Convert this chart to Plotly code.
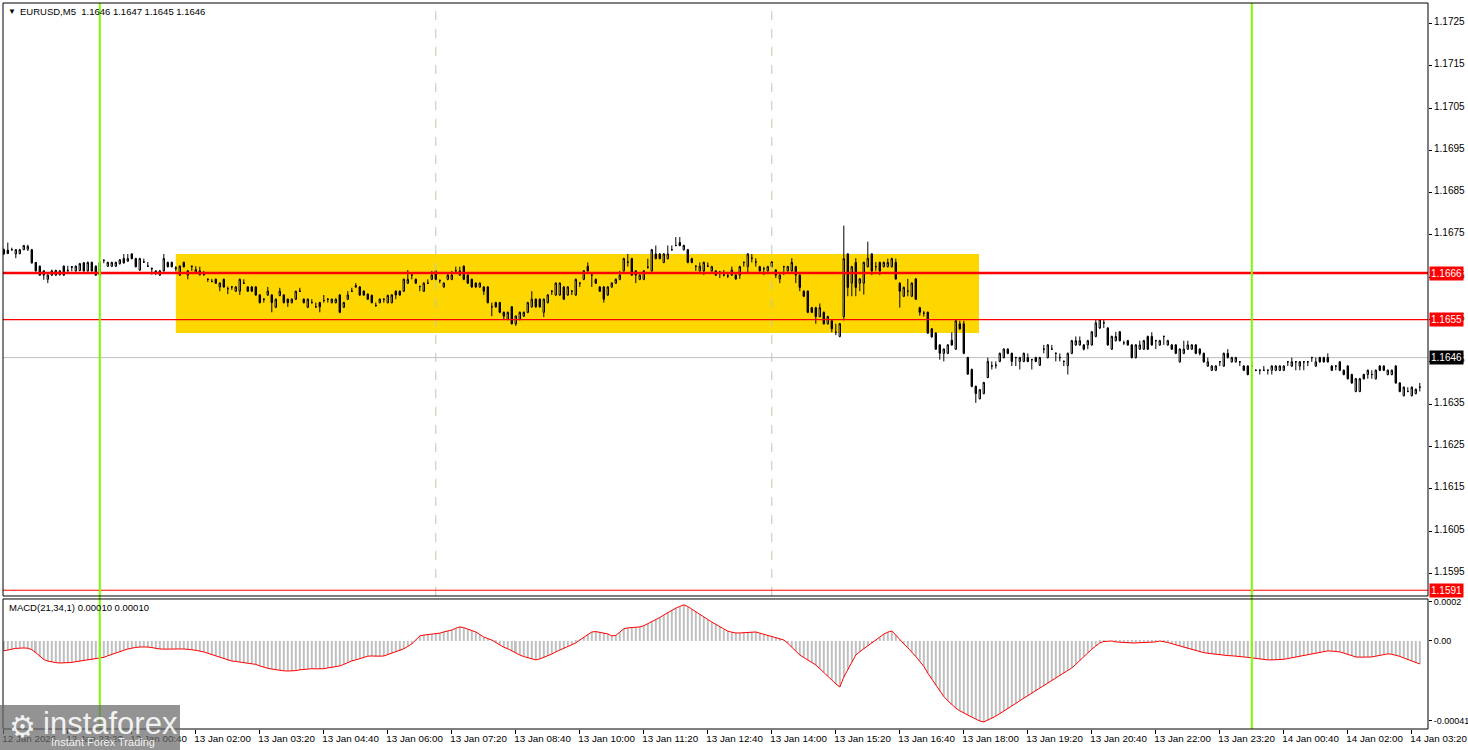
import pandas as pd
import plotly.graph_objects as go

# ---------------- data ----------------
symbol_title = "EURUSD,M5  1.1646 1.1647 1.1645 1.1646"
macd_title = "MACD(21,34,1) 0.00010 0.00010"
start_time = "2026-01-12 22:00"
base_price = 1.16          # prices below are given in pips above this base
pip_size = 0.0001

open_pips = [
    71.5,71.4,71.5,70.5,70.6,71.5,71.6,71.5,68.5,67.6,
    66.5,64.5,65.5,65.5,65.6,67.6,66.5,67.5,66.5,66.6,
    68.4,66.5,68.5,67.6,65.5,69.0,67.6,67.6,67.6,68.2,
    69.4,68.8,70.5,69.4,66.7,68.6,67.6,67.1,66.5,65.5,
    66.5,68.5,68.5,67.0,65.5,68.5,65.5,67.5,66.0,65.6,
    65.6,64.5,64.0,64.5,62.7,64.5,62.3,62.7,61.7,61.7,
    63.6,62.7,62.7,62.7,60.8,59.8,60.8,60.8,57.9,60.7,
    60.8,59.8,59.0,59.8,61.7,59.8,57.9,59.0,58.0,59.0,
    59.5,59.8,59.0,59.0,60.8,57.9,59.8,61.7,62.7,62.7,
    61.7,61.0,60.7,58.3,59.0,59.8,59.0,59.0,61.7,61.7,
    61.7,63.6,65.5,64.5,62.8,61.7,63.6,64.5,66.5,64.2,
    62.7,64.5,64.5,66.5,65.5,67.6,65.5,64.5,63.6,62.7,
    62.7,62.7,58.0,59.0,59.0,56.7,55.0,58.0,54.0,55.0,
    55.8,56.7,58.0,59.8,59.8,56.7,59.0,61.7,60.8,60.8,
    62.7,60.8,61.7,60.8,63.6,64.5,67.6,65.5,64.5,62.7,
    62.7,60.8,62.7,63.6,64.5,66.5,68.5,69.4,66.5,64.5,
    64.5,67.4,66.5,70.5,70.5,68.5,69.4,71.5,72.5,73.2,
    71.5,71.5,69.4,67.6,66.5,66.5,67.6,66.5,66.5,66.2,
    65.5,65.3,65.5,65.5,65.5,68.5,67.5,69.5,68.6,67.5,
    67.0,66.5,68.6,66.7,64.6,67.5,66.5,66.5,67.5,65.5,
    61.7,61.7,57.8,57.8,55.7,56.7,54.0,54.7,52.0,51.0,
    55.7,70.5,63.6,68.5,63.6,63.6,67.5,70.5,67.5,68.5,
    67.5,67.5,67.5,68.5,63.6,60.5,61.7,60.5,64.6,57.8,
    56.5,56.7,52.8,51.8,49.0,47.0,47.0,50.1,48.0,54.0,
    54.0,46.0,43.2,39.2,36.3,37.5,41.3,44.0,44.2,45.1,
    46.0,48.0,47.0,46.0,45.1,45.1,46.0,45.5,46.0,44.2,
    48.0,46.0,48.0,47.0,46.0,45.1,44.1,47.0,49.0,49.0,
    49.0,49.0,49.0,51.0,53.0,54.2,53.0,48.0,50.0,52.1,
    49.5,50.0,49.0,46.0,48.0,48.0,51.0,51.0,50.0,49.0,
    51.0,49.0,49.0,49.0,45.0,47.0,48.0,48.0,49.0,48.0,
    47.0,44.0,43.0,43.0,45.0,44.0,47.0,45.0,45.0,45.0,
    44.0,44.0,44.0,43.0,43.0,43.0,43.0,43.0,43.0,43.0,
    43.0,45.0,44.0,45.0,44.0,45.0,45.0,46.0,44.0,46.0,
    46.0,46.0,44.0,44.0,45.0,43.0,44.0,42.0,38.0,38.0,
    42.0,42.0,42.0,41.0,44.0,44.0,42.0,42.0,44.0,40.0,
    37.0,38.0,37.0,37.5,39.0,
]

close_pips = [
    70.5,70.6,71.5,71.5,71.5,72.5,72.3,68.4,66.5,65.5,
    65.5,65.5,66.5,66.6,66.5,65.5,66.6,67.4,67.6,68.2,
    66.5,68.5,66.5,65.5,68.5,69.0,68.5,68.5,68.5,69.1,
    68.4,69.4,69.4,67.5,69.4,68.6,67.6,67.0,66.2,66.5,
    69.4,67.5,67.5,67.2,67.6,67.5,66.5,67.6,66.8,66.5,
    65.6,64.5,64.0,63.6,63.6,62.7,62.3,62.7,62.7,64.5,
    63.6,61.7,61.7,60.8,59.0,59.8,61.7,59.0,59.8,61.7,
    59.0,59.0,59.8,61.7,61.7,59.0,59.8,59.0,58.0,58.0,
    59.5,59.8,59.8,59.8,56.7,59.0,60.8,61.7,63.0,60.8,
    60.8,59.8,59.0,58.3,59.8,59.8,60.7,60.8,60.8,60.8,
    64.5,64.5,65.5,63.6,62.8,63.6,63.6,65.5,64.5,64.2,
    63.6,65.5,65.5,66.5,66.5,64.5,63.6,62.7,62.7,63.6,
    61.7,59.0,58.0,58.0,56.7,55.8,56.7,54.0,55.8,56.7,
    56.7,59.0,59.8,58.0,58.0,59.8,60.8,61.7,63.6,63.6,
    59.8,62.7,61.7,64.5,63.6,66.5,66.5,65.5,63.6,61.7,
    59.8,62.7,63.6,64.5,65.5,69.4,68.6,65.5,65.5,65.5,
    66.5,67.4,71.5,69.4,69.4,70.5,70.5,71.5,72.5,72.5,
    72.5,68.5,68.5,67.6,67.6,68.5,67.6,67.5,65.5,66.2,
    65.5,65.3,66.7,64.6,67.5,68.5,70.5,69.5,68.6,66.5,
    67.0,67.5,67.5,65.5,65.5,67.5,67.5,68.5,65.5,62.6,
    60.5,56.7,56.7,55.7,57.8,54.0,55.7,52.8,52.0,54.0,
    69.4,62.6,67.5,62.6,64.6,68.5,69.5,66.5,67.5,66.5,
    68.5,68.5,69.4,64.6,61.7,62.6,61.7,63.6,59.8,56.7,
    56.5,51.8,50.9,48.0,47.0,48.0,49.0,49.0,54.7,52.8,
    47.0,42.1,39.2,37.5,38.4,40.1,45.1,44.0,44.2,47.0,
    48.0,47.0,45.1,46.0,46.0,47.0,45.1,45.5,45.1,46.0,
    48.0,49.0,48.0,47.0,46.0,45.1,47.0,50.0,50.0,50.0,
    48.0,50.0,52.1,54.2,55.0,54.2,49.0,51.0,51.0,50.0,
    49.5,49.0,46.0,49.0,49.0,50.0,48.0,49.0,50.0,50.0,
    51.0,50.0,48.0,47.0,48.0,48.0,49.0,49.0,47.0,47.0,
    45.0,45.0,44.0,44.0,45.0,47.0,46.0,46.0,46.0,45.0,
    43.0,42.0,44.0,43.0,43.0,43.0,43.0,44.0,44.0,44.0,
    44.0,45.0,45.0,45.0,45.0,45.0,45.0,46.0,45.0,45.0,
    45.0,45.0,43.0,44.0,43.0,42.0,41.0,40.0,41.0,41.0,
    41.0,43.0,42.0,43.0,43.0,43.0,43.0,43.0,40.0,38.0,
    39.0,38.0,39.0,38.5,39.0,
]

high_pips = [
    71.8,73.2,72.0,71.6,71.7,72.6,72.7,71.7,68.6,67.8,
    66.7,65.7,66.8,66.8,66.7,67.8,67.7,67.6,67.8,68.4,
    68.6,68.7,68.7,67.8,68.7,69.2,68.7,68.7,68.7,69.3,
    70.5,70.5,70.7,69.6,69.6,69.4,68.6,67.3,66.6,66.7,
    70.5,68.7,68.7,67.6,67.8,68.7,66.7,67.7,67.6,67.5,
    66.5,64.7,64.6,64.7,63.8,64.7,62.8,62.9,62.9,64.7,
    64.5,62.9,62.9,62.9,61.0,60.0,62.7,61.0,60.0,62.5,
    61.0,60.0,60.0,61.8,62.5,60.0,60.0,59.8,59.0,59.2,
    60.8,60.0,60.0,60.0,61.0,59.2,61.7,62.5,63.6,62.9,
    61.9,61.2,60.9,59.0,60.0,60.0,60.9,61.0,61.9,61.9,
    64.7,66.7,65.7,64.7,63.0,63.8,64.5,66.5,66.7,64.5,
    63.8,65.7,66.5,67.5,67.5,67.8,65.7,64.7,63.8,63.8,
    62.9,62.9,59.0,59.2,59.2,56.9,56.9,58.2,56.0,56.9,
    56.9,59.2,61.7,60.0,60.0,60.0,61.0,61.9,63.8,63.8,
    62.9,62.9,61.9,64.7,63.8,66.7,68.5,65.7,64.7,62.9,
    62.9,62.9,63.8,64.7,66.5,69.6,70.5,69.6,66.7,65.7,
    66.7,69.4,71.7,72.5,70.7,70.7,72.5,72.5,74.5,74.5,
    72.7,71.7,69.6,67.8,68.5,68.7,68.5,67.7,66.7,66.5,
    66.7,66.0,67.5,65.7,67.7,68.7,70.7,70.5,69.5,67.7,
    67.5,67.7,68.8,66.9,65.7,67.7,67.7,69.5,67.7,65.7,
    61.9,61.9,58.0,58.0,58.8,56.9,55.9,54.9,54.0,54.2,
    77.2,70.7,67.7,69.5,64.8,68.7,73.4,70.7,68.6,68.7,
    68.7,69.4,69.6,69.4,63.8,62.8,64.6,63.8,64.8,58.0,
    57.0,56.9,53.0,52.0,49.2,48.2,49.2,52.0,54.9,54.7,
    54.7,46.2,43.4,39.4,38.6,40.3,46.0,45.1,45.1,47.2,
    48.2,48.2,47.2,46.2,46.2,47.2,47.0,45.7,46.2,46.2,
    49.0,49.2,49.0,47.2,47.0,45.3,47.2,50.2,51.0,51.0,
    49.2,50.2,52.3,55.0,55.0,55.0,53.2,51.2,52.1,52.3,
    50.0,50.2,49.2,49.2,50.0,50.2,51.2,52.0,50.2,50.2,
    51.2,50.2,49.2,49.2,48.2,50.0,50.0,49.2,49.2,48.2,
    47.2,46.0,44.2,44.2,45.2,47.2,48.0,46.2,46.2,45.2,
    44.2,44.2,45.0,43.2,43.2,44.0,43.2,44.2,44.2,44.2,
    44.2,45.2,46.0,45.2,45.2,45.2,45.2,46.2,46.0,46.2,
    46.2,47.0,44.2,44.2,45.2,43.2,44.2,42.2,41.2,41.2,
    42.2,43.2,43.0,43.2,44.2,44.2,43.2,43.2,44.2,40.2,
    39.2,39.0,39.2,38.7,40.0,
]

low_pips = [
    70.3,70.5,71.3,69.5,70.4,71.4,71.2,68.2,66.3,65.3,
    64.4,63.6,65.3,65.3,65.4,65.3,66.3,66.4,66.3,66.4,
    66.3,66.3,66.3,65.3,65.3,68.3,67.4,67.4,67.4,68.0,
    68.2,68.6,69.2,67.3,66.5,68.4,67.4,65.6,65.5,65.3,
    66.3,67.3,67.3,66.4,65.3,67.3,64.5,66.5,65.8,65.4,
    65.4,63.9,63.8,63.4,61.7,62.5,61.0,62.0,61.5,60.8,
    63.4,61.5,61.5,60.6,58.8,59.0,60.6,56.7,57.7,60.5,
    58.8,58.0,58.8,59.6,61.5,58.8,57.7,58.8,57.8,56.7,
    59.0,59.0,58.8,58.8,56.5,57.7,59.6,61.5,62.5,60.6,
    60.6,59.6,58.8,58.0,58.8,59.0,58.8,58.8,59.8,60.6,
    61.5,63.4,64.5,63.4,61.7,61.5,63.4,64.3,64.3,63.6,
    62.5,64.3,64.3,66.3,65.3,64.3,63.4,62.5,62.5,62.5,
    60.8,58.8,55.8,57.8,56.5,55.0,54.8,53.8,53.5,54.8,
    55.6,56.5,57.8,57.8,57.8,55.6,58.8,60.8,60.6,60.6,
    59.6,60.6,60.8,60.6,62.7,64.3,66.3,62.7,63.4,61.5,
    59.0,60.6,62.5,63.4,64.3,66.3,67.5,65.3,63.6,64.3,
    64.3,67.0,66.3,69.2,69.2,68.3,69.2,71.3,72.3,72.3,
    71.3,68.3,68.3,66.5,66.3,65.5,67.4,66.3,65.3,64.8,
    65.2,64.8,65.3,64.4,64.6,67.5,66.0,68.5,67.5,66.3,
    65.5,66.3,67.3,64.8,63.6,65.5,66.3,66.3,63.6,61.7,
    60.3,56.5,56.5,54.0,55.5,53.8,53.8,52.0,51.3,50.8,
    54.8,60.5,60.5,60.5,61.7,60.9,67.3,65.5,66.5,65.5,
    67.3,67.3,67.3,64.4,57.8,60.3,60.5,60.3,59.6,55.9,
    55.7,51.6,50.7,47.8,45.5,45.1,46.8,48.8,47.8,52.6,
    46.8,41.9,39.0,35.3,36.1,37.3,41.1,43.2,43.4,44.9,
    45.8,46.8,44.0,44.0,43.2,44.9,44.9,43.2,44.9,44.0,
    47.0,45.8,47.8,45.1,45.1,44.0,42.0,46.8,48.8,48.8,
    47.7,48.0,48.8,50.8,52.8,53.0,48.8,47.8,49.8,49.8,
    49.0,48.8,45.8,45.8,47.8,47.8,47.8,48.8,48.0,48.8,
    49.0,48.8,47.8,46.8,44.8,46.8,47.8,47.8,46.8,46.5,
    44.8,43.8,42.8,42.8,44.0,43.8,45.8,44.8,44.8,44.0,
    42.8,41.8,43.8,42.8,42.0,42.8,42.0,42.0,42.8,42.8,
    42.8,44.0,43.8,43.0,43.0,43.0,44.0,45.0,43.8,44.8,
    44.8,44.8,42.8,43.0,42.8,41.8,40.8,39.8,37.8,37.8,
    40.8,41.0,41.0,40.8,42.8,42.8,41.8,41.8,39.8,37.8,
    36.8,37.8,36.8,37.3,38.0,
]

# MACD main line values, in units of 0.00001 (signal period 1 -> same values)
macd_e5 = [
    -5.1,-4.8,-4.2,-3.8,-3.6,-3.6,-3.7,-4.5,-6.0,-8.0,
    -9.5,-10.3,-10.8,-11.1,-11.3,-11.3,-11.2,-11.0,-10.6,-10.3,
    -10.0,-9.8,-9.6,-9.3,-9.0,-8.4,-7.6,-6.8,-6.1,-5.5,
    -4.8,-4.1,-3.6,-3.3,-3.1,-3.0,-3.1,-3.4,-3.8,-4.1,
    -4.2,-4.1,-4.0,-4.0,-4.1,-4.1,-4.2,-4.5,-4.8,-5.1,
    -5.6,-6.3,-7.0,-7.7,-8.5,-9.3,-10.0,-10.3,-10.5,-10.8,
    -11.0,-11.2,-11.4,-12.0,-12.8,-13.5,-14.0,-14.4,-14.8,-15.1,
    -15.3,-15.4,-15.4,-15.2,-14.8,-14.5,-14.3,-14.2,-14.3,-14.4,
    -14.2,-13.8,-13.5,-13.1,-12.8,-12.0,-11.0,-10.2,-9.7,-9.0,
    -8.3,-7.8,-7.7,-7.9,-7.8,-7.7,-7.0,-6.2,-5.6,-5.1,
    -4.0,-2.8,-1.5,0.5,2.6,3.0,3.3,3.5,3.6,4.0,
    4.6,5.1,5.6,6.5,7.2,6.8,6.0,5.3,4.6,3.3,
    2.0,1.2,0.5,-0.8,-2.2,-3.2,-4.0,-5.2,-6.3,-7.2,
    -8.0,-8.7,-9.3,-9.7,-9.2,-8.5,-7.8,-6.7,-5.6,-4.6,
    -3.6,-2.6,-1.8,-1.0,0.5,2.0,3.4,4.6,4.8,4.5,
    4.2,3.6,2.6,2.8,4.5,6.2,6.7,6.8,7.0,7.2,
    7.8,8.8,9.9,10.8,12.0,13.3,14.6,15.9,16.8,17.7,
    18.5,17.6,16.2,14.9,13.6,12.2,11.0,9.7,8.5,7.2,
    5.8,5.0,4.5,4.1,4.1,4.3,4.5,4.6,4.6,4.0,
    3.4,3.0,2.6,2.0,1.3,0.5,-1.2,-3.2,-5.2,-7.2,
    -8.5,-9.8,-11.0,-12.3,-14.2,-16.0,-18.1,-20.0,-22.0,-23.6,
    -18.5,-14.5,-10.6,-7.2,-5.5,-4.0,-2.7,-1.2,0.5,1.8,
    3.5,4.5,5.1,3.0,0.5,-1.5,-3.5,-5.6,-8.0,-10.5,
    -13.0,-16.5,-19.5,-22.6,-25.5,-28.5,-30.6,-32.6,-34.4,-35.8,
    -37.0,-38.0,-39.0,-40.0,-41.0,-41.5,-40.6,-39.6,-38.5,-37.2,
    -36.0,-34.7,-33.3,-32.0,-30.6,-29.3,-28.2,-27.0,-25.6,-24.1,
    -23.0,-21.7,-20.4,-19.0,-17.8,-16.5,-15.1,-13.8,-12.0,-10.0,
    -7.8,-6.0,-4.2,-2.6,-1.0,-0.3,0.0,0.0,-0.5,-0.7,
    -0.8,-0.9,-1.0,-1.0,-0.9,-1.0,-1.0,-0.8,-0.5,0.0,
    -0.3,-0.8,-1.4,-2.0,-2.6,-3.3,-4.0,-4.6,-5.1,-5.6,
    -6.0,-6.3,-6.6,-6.9,-7.2,-7.3,-7.5,-7.6,-7.7,-8.0,
    -8.2,-8.4,-8.7,-9.0,-9.3,-9.6,-9.7,-9.7,-9.7,-9.7,
    -9.4,-9.0,-8.6,-8.2,-7.8,-7.4,-7.0,-6.7,-6.2,-5.7,
    -5.2,-5.1,-5.2,-5.4,-5.6,-6.2,-7.0,-7.6,-8.2,-8.3,
    -8.3,-8.2,-8.2,-7.8,-7.3,-6.8,-6.6,-6.8,-7.2,-7.9,
    -8.7,-9.5,-10.3,-11.0,-11.8,
]

# levels / objects
level_resistance = 1.1666
level_support = 1.1655
level_bottom = 1.1591
bid_price = 1.1646
box_start, box_end = "2026-01-13 01:35", "2026-01-13 18:19"
box_low, box_high = 1.16518, 1.16705
day_lines = ["2026-01-13 00:00", "2026-01-14 00:00"]
session_lines = ["2026-01-13 07:00", "2026-01-13 14:00"]

price_ticks = [1.1595, 1.1605, 1.1615, 1.1625, 1.1635, 1.1645, 1.1655, 1.1665,
               1.1675, 1.1685, 1.1695, 1.1705, 1.1715, 1.1725]
price_tick_text = ["1.1595", "1.1605", "1.1615", "1.1625", "1.1635", "1.1645", "1.1655",
                   "1.1665", "1.1675", "1.1685", "1.1695", "1.1705", "1.1715", "1.1725"]
macd_ticks = [0.0002, 0.0, -0.00041]
macd_tick_text = ["0.0002", "0.00", "-0.00041"]
time_tick_text = ["12 Jan 2026", "12 Jan 23:20", "13 Jan 00:40", "13 Jan 02:00", "13 Jan 03:20",
                  "13 Jan 04:40", "13 Jan 06:00", "13 Jan 07:20", "13 Jan 08:40", "13 Jan 10:00",
                  "13 Jan 11:20", "13 Jan 12:40", "13 Jan 14:00", "13 Jan 15:20", "13 Jan 16:40",
                  "13 Jan 18:00", "13 Jan 19:20", "13 Jan 20:40", "13 Jan 22:00", "13 Jan 23:20",
                  "14 Jan 00:40", "14 Jan 02:00", "14 Jan 03:20"]

# ---------------- build ----------------
def to_price(p):
    return [round(base_price + v * pip_size, 5) for v in p]

times = pd.date_range(start_time, periods=len(close_pips), freq="5min")
time_ticks = pd.date_range(start_time, periods=len(time_tick_text), freq="80min")
macd_vals = [v * 1e-5 for v in macd_e5]

FONT = "Liberation Sans, Arial, sans-serif"

fig = go.Figure()
fig.add_trace(go.Candlestick(
    x=times, open=to_price(open_pips), high=to_price(high_pips),
    low=to_price(low_pips), close=to_price(close_pips),
    increasing=dict(line=dict(color="black", width=1), fillcolor="white"),
    decreasing=dict(line=dict(color="black", width=1), fillcolor="black"),
    whiskerwidth=0, showlegend=False, xaxis="x", yaxis="y"))
fig.add_trace(go.Bar(
    x=times, y=macd_vals, width=150000,
    marker=dict(color="#C0C0C0", line=dict(width=0)),
    showlegend=False, xaxis="x", yaxis="y2"))
fig.add_trace(go.Scatter(
    x=times, y=macd_vals, mode="lines", line=dict(color="#FF0000", width=1),
    showlegend=False, xaxis="x", yaxis="y2"))

shapes = []
# yellow consolidation box
shapes.append(dict(type="rect", xref="x", yref="y", x0=box_start, x1=box_end,
                   y0=box_low, y1=box_high, fillcolor="#FFD700", line=dict(width=0), layer="below"))
# bid line
shapes.append(dict(type="line", xref="paper", yref="y", x0=0, x1=1, y0=bid_price, y1=bid_price,
                   line=dict(color="#C0C0C0", width=1), layer="below"))
# session dashed lines
for t in session_lines:
    shapes.append(dict(type="line", xref="x", yref="y domain", x0=t, x1=t, y0=0, y1=1,
                       line=dict(color="#B8C8B0", width=1, dash="dash"), layer="above"))
# red levels
shapes.append(dict(type="line", xref="paper", yref="y", x0=0, x1=1, y0=level_resistance,
                   y1=level_resistance, line=dict(color="#FF0000", width=2.5), layer="above"))
shapes.append(dict(type="line", xref="paper", yref="y", x0=0, x1=1, y0=level_support,
                   y1=level_support, line=dict(color="#FF0000", width=1.2), layer="above"))
shapes.append(dict(type="line", xref="paper", yref="y", x0=0, x1=1, y0=level_bottom,
                   y1=level_bottom, line=dict(color="#FF0000", width=1.2), layer="above"))
# day separators (green)
for t in day_lines:
    shapes.append(dict(type="line", xref="x", yref="paper", x0=t, x1=t, y0=0, y1=1,
                       line=dict(color="#7CFC00", width=2), layer="above"))
# panel borders
shapes.append(dict(type="rect", xref="paper", yref="y domain", x0=0, x1=1, y0=0, y1=1,
                   line=dict(color="black", width=1), fillcolor="rgba(0,0,0,0)", layer="above"))
shapes.append(dict(type="rect", xref="paper", yref="y2 domain", x0=0, x1=1, y0=0, y1=1,
                   line=dict(color="black", width=1), fillcolor="rgba(0,0,0,0)", layer="above"))
# watermark background
shapes.append(dict(type="rect", xref="paper", yref="paper", x0=-0.0021, x1=0.1242, y0=-0.0289,
                   y1=0.0331, fillcolor="rgba(105,105,105,0.72)", line=dict(width=0), layer="above"))

annotations = []
annotations.append(dict(xref="paper", yref="paper", x=0.0021, y=0.9885, text="▼", showarrow=False,
                        xanchor="left", yanchor="middle", font=dict(size=8, color="black", family=FONT)))
annotations.append(dict(xref="paper", yref="paper", x=0.0105, y=0.9885, text=symbol_title,
                        showarrow=False, xanchor="left", yanchor="middle",
                        font=dict(size=9.5, color="black", family=FONT)))
annotations.append(dict(xref="paper", yref="paper", x=0.0028, y=0.1667, text=macd_title,
                        showarrow=False, xanchor="left", yanchor="middle",
                        font=dict(size=9.5, color="black", family=FONT)))
for lvl, bg in [(level_resistance, "#FF0000"), (level_support, "#FF0000"),
                (level_bottom, "#FF0000"), (bid_price, "#000000")]:
    annotations.append(dict(xref="paper", yref="y", x=1, y=lvl, text=f"{lvl:.4f}", showarrow=False,
                            xanchor="left", yanchor="middle", xshift=1, bgcolor=bg, borderpad=1,
                            font=dict(size=10, color="white", family=FONT)))
annotations.append(dict(xref="paper", yref="paper", x=0.0140, y=0.004, text="⚙", showarrow=False,
                        xanchor="center", yanchor="middle",
                        font=dict(size=30, color="rgba(255,255,255,0.9)", family="DejaVu Sans")))
annotations.append(dict(xref="paper", yref="paper", x=0.0270, y=0.008, text="instaforex",
                        showarrow=False, xanchor="left", yanchor="middle",
                        font=dict(size=31, color="rgba(255,255,255,0.9)", family=FONT)))
annotations.append(dict(xref="paper", yref="paper", x=0.0320, y=-0.0175, text="Instant Forex Trading",
                        showarrow=False, xanchor="left", yanchor="middle",
                        font=dict(size=11, color="rgba(255,255,255,0.9)", family=FONT)))

fig.update_layout(
    width=1468, height=750,
    margin=dict(l=3, r=40, t=3, b=21, autoexpand=False),
    paper_bgcolor="white", plot_bgcolor="white",
    showlegend=False, boxgap=0.5,
    font=dict(family=FONT, size=11, color="black"),
    shapes=shapes, annotations=annotations,
    xaxis=dict(type="date", domain=[0, 1], anchor="y2", automargin=False,
               range=["2026-01-12 21:59:00", "2026-01-14 03:40:15"],
               rangeslider=dict(visible=False), showgrid=False, zeroline=False,
               tickmode="array", tickvals=list(time_ticks), ticktext=time_tick_text,
               tickangle=0, ticks="outside", ticklen=4, tickcolor="black",
               ticklabelposition="outside right", ticklabeloverflow="allow",
               ticklabelshift=-2,
               tickfont=dict(size=9.8, color="black", family=FONT), showline=False),
    yaxis=dict(domain=[0.1832, 1], anchor="x", side="right", automargin=False,
               range=[1.158964, 1.172983], showgrid=False, zeroline=False,
               tickmode="array", tickvals=price_ticks, ticktext=price_tick_text,
               ticks="outside", ticklen=3, tickcolor="black", ticklabelshift=-2,
               tickfont=dict(size=10, color="black", family=FONT)),
    yaxis2=dict(domain=[0, 0.1791], anchor="x", side="right", automargin=False,
                range=[-0.000451, 0.000215], showgrid=False, zeroline=False,
                tickmode="array", tickvals=macd_ticks, ticktext=macd_tick_text,
                ticks="outside", ticklen=3, tickcolor="black", ticklabeloverflow="allow",
                tickfont=dict(size=9, color="black", family=FONT)),
)

fig.write_html("out.html", config={"displayModeBar": False},
               post_script="document.body.style.margin='0';document.body.style.overflow='hidden';")
